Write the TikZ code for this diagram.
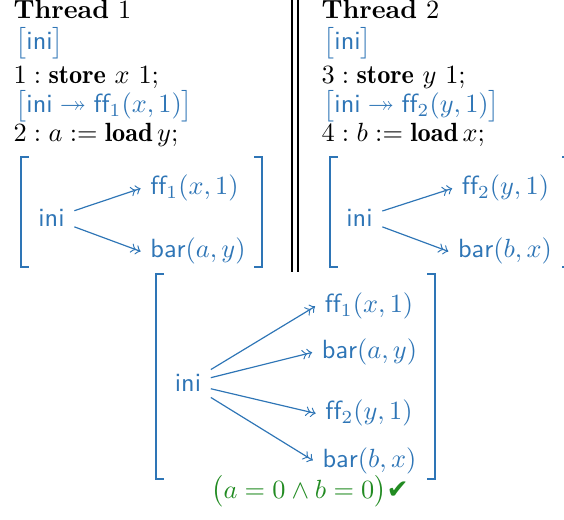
\documentclass[tikz,border=0pt]{standalone}
\usepackage{amsmath,amssymb}
\usepackage{fontspec}
\newfontfamily\checkfont{DejaVu Sans}
\usepackage{tikz}
\usetikzlibrary{arrows,positioning}
\definecolor{stateblue}{RGB}{46,117,182}
\definecolor{okgreen}{RGB}{34,139,34}
\tikzset{
  codeline/.style={anchor=base west, inner sep=0pt},
  statetext/.style={codeline, text=stateblue},
  state/.style={anchor=base, text=stateblue, inner sep=3.5pt},
  edge/.style={draw=stateblue, ->>, line width=0.45pt},
  brk/.style={draw=stateblue, line width=0.8pt},
}
\newcommand{\ini}{\mathsf{ini}}
\newcommand{\ff}[1]{\mathsf{ff}_{#1}}
\newcommand{\barr}{\mathsf{bar}}

\begin{document}
\begin{tikzpicture}[x=0.38pt, y=-0.38pt]
    \useasboundingbox (0,0) rectangle (564,520);

    % Thread 1
    \node[codeline] (title1) at (13,19) {\textbf{Thread} $1$};
    \node[statetext] (pre1) at (15,50) {$\big[\ini\big]$};
    \node[codeline] (st1) at (13,84) {$1:\mathbf{store}\ x\ 1;$};
    \node[statetext] (post1) at (15,113) {$\big[\ini\twoheadrightarrow\ff{1}(x,1)\big]$};
    \node[codeline] (ld1) at (13,142) {$2:a:=\mathbf{load}\,y;$};

    % Thread 2
    \node[codeline] (title2) at (321,19) {\textbf{Thread} $2$};
    \node[statetext] (pre2) at (323,50) {$\big[\ini\big]$};
    \node[codeline] (st2) at (321,84) {$3:\mathbf{store}\ y\ 1;$};
    \node[statetext] (post2) at (323,113) {$\big[\ini\twoheadrightarrow\ff{2}(y,1)\big]$};
    \node[codeline] (ld2) at (321,142) {$4:b:=\mathbf{load}\,x;$};

    % parallel bar
    \draw[line width=1pt] (292,0) -- (292,272);
    \draw[line width=1pt] (298,0) -- (298,272);

    % state of thread 1
    \draw[brk] (29,157) -| (21,267) -- (29,267);
    \draw[brk] (254,157) -| (262,267) -- (254,267);
    \node[state] (iniA) at (51.5,227) {$\ini$};
    \node[state] (ffA) at (194.5,195) {$\ff{1}(x,1)$};
    \node[state] (barA) at (198,258) {$\barr(a,y)$};
    \draw[edge] (iniA) -- (ffA.west);
    \draw[edge] (iniA) -- (barA.west);

    % state of thread 2
    \draw[brk] (338,157) -| (330,267) -- (338,267);
    \draw[brk] (562,157) -| (570,267) -- (562,267);
    \node[state] (iniB) at (359.5,227) {$\ini$};
    \node[state] (ffB) at (505.5,195) {$\ff{2}(y,1)$};
    \node[state] (barB) at (505,258) {$\barr(b,x)$};
    \draw[edge] (iniB) -- (ffB.west);
    \draw[edge] (iniB) -- (barB.west);

    % combined state
    \draw[brk] (164,274) -| (156,479) -- (164,479);
    \draw[brk] (427,274) -| (435,479) -- (427,479);
    \node[state] (iniC) at (188,392) {$\ini$};
    \node[state] (ffC1) at (369,313) {$\ff{1}(x,1)$};
    \node[state] (barC1) at (369.5,359) {$\barr(a,y)$};
    \node[state] (ffC2) at (369,420) {$\ff{2}(y,1)$};
    \node[state] (barC2) at (369.5,467) {$\barr(b,x)$};
    \draw[edge] (iniC) -- (ffC1.west);
    \draw[edge] (iniC) -- (barC1.west);
    \draw[edge] (iniC) -- (ffC2.west);
    \draw[edge] (iniC) -- (barC2.west);

    % outcome
    \node[anchor=base, text=okgreen, inner sep=0pt] (result) at (310,498)
        {$\big(a=0\wedge b=0\big)${\checkfont ✔}};
\end{tikzpicture}
\end{document}
